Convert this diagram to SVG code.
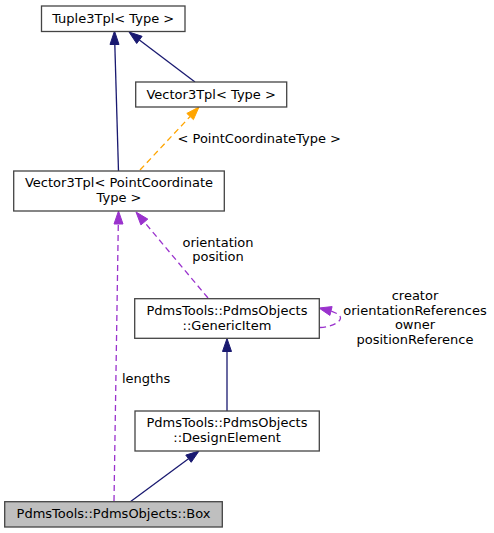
<svg xmlns="http://www.w3.org/2000/svg" width="494" height="533" viewBox="0 0 494 533">
<style>
text{font-family:"DejaVu Sans","Liberation Sans",sans-serif;font-size:13px;fill:#000}
.c{text-anchor:middle}
.n rect{fill:#fff;stroke:#444;stroke-width:1.3}
.root rect{fill:#bfbfbf}
.inh{stroke:#191970;stroke-width:1.3;fill:none}
.inhA{fill:#191970;stroke:#191970}
.tpl{stroke:#ffa500;stroke-width:1.3;fill:none;stroke-dasharray:6,4}
.tplA{fill:#ffa500;stroke:#ffa500}
.use{stroke:#9a32cd;stroke-width:1.3;fill:none;stroke-dasharray:6,4}
.useA{fill:#9a32cd;stroke:#9a32cd}
</style>
<g id="connectors">
<path class="inh" d="M118.5,171 L114.8,44"/>
<polygon class="inhA" points="114.5,31 110,44.5 119,44.5"/>
<path class="inh" d="M195,82 L139.4,39.9"/>
<polygon class="inhA" points="129,32 142.1,36.3 136.7,43.5"/>
<path class="tpl" d="M140,170 L190.1,116.5"/>
<polygon class="tplA" points="199,107 193.4,119.6 186.8,113.4"/>
<text x="177.5" y="142.5">&lt; PointCoordinateType &gt;</text>
<path class="use" d="M208,298 L144.3,222"/>
<polygon class="useA" points="136,212 147.8,219.1 140.9,224.9"/>
<text class="c" x="218" y="247">orientation</text>
<text class="c" x="218" y="261">position</text>
<path class="use" d="M114,501 L118.3,224"/>
<polygon class="useA" points="118.5,211 114,224 123,224"/>
<text x="122" y="382.5">lengths</text>
<path class="use" d="M320,327.5 C333,327 346,320 338,314 L331,311"/>
<polygon class="useA" points="319,308 332.1,306.6 329.9,315.4"/>
<text class="c" x="415" y="300">creator</text>
<text class="c" x="415" y="314.5">orientationReferences</text>
<text class="c" x="415" y="329">owner</text>
<text class="c" x="415" y="343.5">positionReference</text>
<path class="inh" d="M227,411 L227,351"/>
<polygon class="inhA" points="227,338.5 222.5,351.5 231.5,351.5"/>
<path class="inh" d="M130,502 L188.5,458.7"/>
<polygon class="inhA" points="199,451 191.2,462.3 185.8,455.1"/>
</g>
<g id="node_tuple3tpl" class="n">
<rect x="41.5" y="6" width="143.5" height="25.5"/>
<text class="c" x="113.2" y="23">Tuple3Tpl&lt; Type &gt;</text>
</g>
<g id="node_vector3tpl_type" class="n">
<rect x="135.7" y="82" width="151" height="25"/>
<text class="c" x="211.2" y="99">Vector3Tpl&lt; Type &gt;</text>
</g>
<g id="node_vector3tpl_pct" class="n">
<rect x="13.7" y="171" width="210.6" height="40"/>
<text class="c" x="119" y="187">Vector3Tpl&lt; PointCoordinate</text>
<text class="c" x="119" y="202">Type &gt;</text>
</g>
<g id="node_genericitem" class="n">
<rect x="134.7" y="298.7" width="184.6" height="39.6"/>
<text class="c" x="227" y="315">PdmsTools::PdmsObjects</text>
<text class="c" x="227" y="329.5">::GenericItem</text>
</g>
<g id="node_designelement" class="n">
<rect x="135" y="411" width="184.3" height="40"/>
<text class="c" x="227" y="426.5">PdmsTools::PdmsObjects</text>
<text class="c" x="227" y="442">::DesignElement</text>
</g>
<g id="node_box" class="n root">
<rect x="4.7" y="501.7" width="217.6" height="25.3"/>
<text class="c" x="113.5" y="518">PdmsTools::PdmsObjects::Box</text>
</g>
</svg>
